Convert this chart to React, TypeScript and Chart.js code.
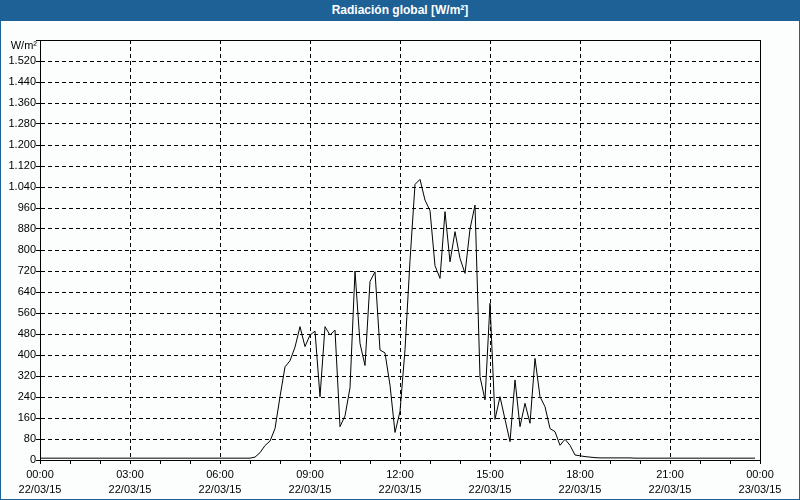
import React, { useEffect, useRef } from 'react';
import { Chart, registerables } from 'chart.js';

Chart.register(...registerables);

const TITLE = 'Radiación global [W/m²]';
const UNIT = 'W/m²';
const INTERVAL_MIN = 10;

// Global radiation [W/m²], 10-minute values from 22/03/15 00:00 to 23:50
const radiation: number[] = [
  // 00:00 - 06:50
  7, 7, 7, 7, 7, 7, 7, 7, 7, 7, 7, 7,
  7, 7, 7, 7, 7, 7, 7, 7, 7, 7, 7, 7,
  7, 7, 7, 7, 7, 7, 7, 7, 7, 7, 7, 7,
  7, 7, 7, 7, 7, 7,
  // 07:00 - 07:50
  7, 11, 28, 55, 72, 120,
  // 08:00 - 08:50
  241, 355, 378, 430, 508, 432,
  // 09:00 - 09:50
  476, 491, 241, 508, 476, 495,
  // 10:00 - 10:50
  127, 168, 275, 720, 444, 360,
  // 11:00 - 11:50
  680, 717, 419, 408, 285, 105,
  // 12:00 - 12:50
  185, 420, 760, 1050, 1069, 990,
  // 13:00 - 13:50
  950, 740, 692, 946, 755, 870,
  // 14:00 - 14:50
  768, 711, 880, 971, 317, 229,
  // 15:00 - 15:50
  597, 155, 241, 155, 70, 305,
  // 16:00 - 16:50
  127, 216, 140, 387, 241, 203,
  // 17:00 - 17:50
  120, 108, 56, 79, 56, 19,
  // 18:00 - 18:50
  16, 13, 11, 9, 8, 8,
  // 19:00 - 19:50
  8, 8, 8, 8, 8, 7,
  // 20:00 - 23:50
  7, 7, 7, 7, 7, 7,
  7, 7, 7, 7, 7, 7,
  7, 7, 7, 7, 7, 7,
  7, 7, 7, 7, 7, 7,
];

const xTickTimes = ['00:00', '03:00', '06:00', '09:00', '12:00', '15:00', '18:00', '21:00', '00:00'];
const xTickDates = ['22/03/15', '22/03/15', '22/03/15', '22/03/15', '22/03/15', '22/03/15', '22/03/15', '22/03/15', '23/03/15'];

const X_MAX_MIN = 1440;
const X_LABEL_STEP = 180;
const X_MINOR_STEP = 60;
const Y_MAX = 1600;
const Y_STEP = 80;

const FONT = '"Liberation Sans", Arial, sans-serif';
const BLUE = '#1d6197';
const DASH = [4, 3];

function fmtThousands(v: number): string {
  if (v >= 1000) {
    return Math.floor(v / 1000) + '.' + String(v % 1000).padStart(3, '0');
  }
  return String(v);
}

const framePlugin = {
  id: 'frame',
  afterDraw(chart: any) {
    const { ctx, chartArea: a } = chart;
    ctx.save();
    ctx.strokeStyle = '#000';
    ctx.lineWidth = 1;
    ctx.setLineDash([]);
    const l = Math.round(a.left) + 0.5;
    const t = Math.round(a.top) + 0.5;
    ctx.strokeRect(l, t, Math.round(a.right - a.left), Math.round(a.bottom - a.top));
    ctx.font = '11px ' + FONT;
    ctx.fillStyle = '#000';
    ctx.textAlign = 'right';
    ctx.textBaseline = 'middle';
    ctx.fillText(UNIT, a.left - 3, a.top + 6);
    ctx.restore();
  },
};

export default function App() {
  const ref = useRef<HTMLCanvasElement | null>(null);

  useEffect(() => {
    if (!ref.current) return;
    const points = radiation.map((v, i) => ({ x: i * INTERVAL_MIN, y: v }));
    const chart = new Chart(ref.current, {
      type: 'line',
      data: {
        datasets: [
          {
            data: points,
            borderColor: '#000',
            borderWidth: 1,
            pointRadius: 0,
            tension: 0,
            fill: false,
          },
        ],
      },
      options: {
        animation: false,
        responsive: false,
        events: [],
        layout: { padding: { left: 0, top: 40, right: 40, bottom: 0 } },
        plugins: {
          legend: { display: false },
          tooltip: { enabled: false },
          title: { display: false },
        },
        scales: {
          x: {
            type: 'linear',
            min: 0,
            max: X_MAX_MIN,
            afterFit: (s: any) => {
              s.height = 40;
            },
            border: { display: true, color: '#000', width: 1, dash: DASH },
            grid: {
              color: (c: any) => (c.tick && c.tick.value % X_LABEL_STEP === 0 ? '#000' : 'rgba(0,0,0,0)'),
              tickColor: '#000',
              tickLength: 4,
              lineWidth: 1,
              drawTicks: true,
              tickBorderDash: [],
            },
            ticks: {
              stepSize: X_MINOR_STEP,
              autoSkip: false,
              maxRotation: 0,
              padding: 3,
              color: '#000',
              font: { family: FONT, size: 11, lineHeight: 1.4 },
              callback: (value: any) => {
                const v = Number(value);
                if (v % X_LABEL_STEP !== 0) return '';
                const i = v / X_LABEL_STEP;
                return [xTickTimes[i], xTickDates[i]];
              },
            },
          },
          y: {
            type: 'linear',
            min: 0,
            max: Y_MAX,
            afterFit: (s: any) => {
              s.width = 40;
            },
            border: { display: true, color: '#000', width: 1, dash: DASH },
            grid: {
              color: '#000',
              tickColor: '#000',
              tickLength: 4,
              lineWidth: 1,
              tickBorderDash: [],
            },
            ticks: {
              stepSize: Y_STEP,
              autoSkip: false,
              padding: 0,
              color: '#000',
              font: { family: FONT, size: 11 },
              callback: (value: any) => {
                const v = Number(value);
                if (v === Y_MAX) return '';
                return fmtThousands(v);
              },
            },
          },
        },
      },
      plugins: [framePlugin],
    } as any);
    return () => chart.destroy();
  }, []);

  return (
    <div style={{ position: 'absolute', left: 0, top: 0, width: 800, height: 500, background: '#fcfefe', overflow: 'hidden' }}>
      <canvas ref={ref} width={800} height={500} style={{ position: 'absolute', left: 0, top: 0, width: 800, height: 500 }} />
      <div
        style={{
          position: 'absolute',
          left: 0,
          top: 0,
          width: 800,
          height: 21,
          background: BLUE,
          color: '#fff',
          fontFamily: FONT,
          fontWeight: 'bold',
          fontSize: 12,
          lineHeight: '21px',
          textAlign: 'center',
        }}
      >
        {TITLE}
      </div>
      <div
        style={{
          position: 'absolute',
          left: 0,
          top: 0,
          width: 800,
          height: 500,
          boxSizing: 'border-box',
          border: '1px solid ' + BLUE,
          pointerEvents: 'none',
        }}
      />
    </div>
  );
}
